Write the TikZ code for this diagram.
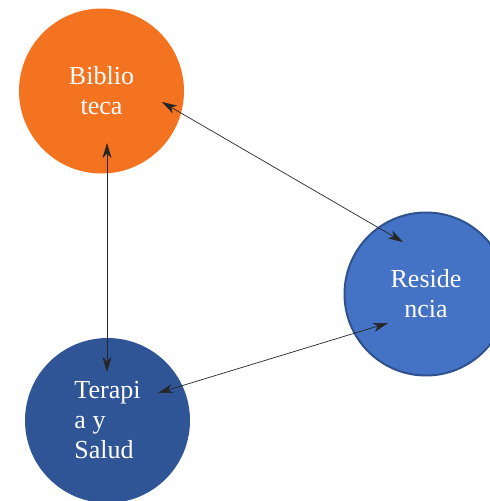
\documentclass[tikz,border=0pt]{standalone}
\usepackage{fontspec}
\setmainfont{Liberation Serif}
\usetikzlibrary{arrows.meta}
\definecolor{naranja}{HTML}{F47320}
\definecolor{azulres}{HTML}{4472C4}
\definecolor{bordeazul}{HTML}{2F528F}
\definecolor{azulter}{HTML}{2F5597}
\begin{document}
\begin{tikzpicture}[x=1pt, y=-1pt, >={Stealth[length=15pt,width=9pt,inset=4.5pt]},
    circulo/.style={circle, minimum size=165pt, inner sep=0pt, text=white, font=\fontsize{26}{30}\selectfont},
    flecha/.style={<->, line width=0.7pt, draw=black!85}]
  \useasboundingbox (0,0) rectangle (490,501);
  % circulos
  \node[circulo, fill=naranja, align=center] (bib) at (101.5,91) {Biblio\\teca};
  \node[circulo, fill=azulres, draw=bordeazul, line width=2pt, minimum size=163pt, align=center] (res) at (426,294) {Reside\\ncia};
  \node[circulo, fill=azulter, align=left] (ter) at (107.5,420.5) {Terapi\\a y\\Salud};
  % extremos de las flechas
  \coordinate (bibA) at (162,102);
  \coordinate (resA) at (403,242);
  \coordinate (bibB) at (107,143);
  \coordinate (terB) at (107,372);
  \coordinate (terC) at (158,393);
  \coordinate (resC) at (388,323);
  \draw[flecha] (bibA) -- (resA);
  \draw[flecha] (bibB) -- (terB);
  \draw[flecha] (terC) -- (resC);
\end{tikzpicture}
\end{document}
